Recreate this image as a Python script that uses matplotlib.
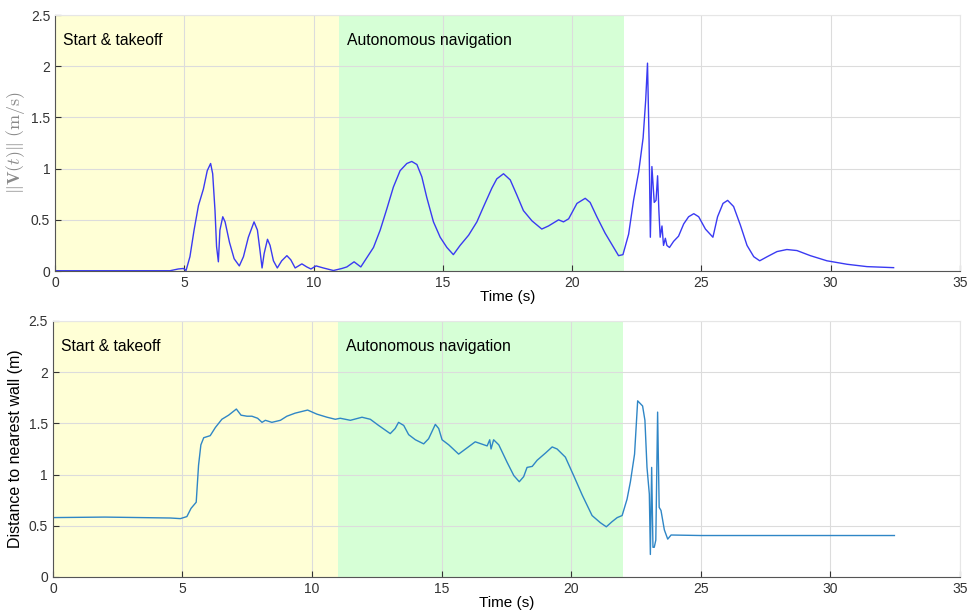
import matplotlib
matplotlib.use("Agg")
import matplotlib.pyplot as plt

plt.rcParams['font.family'] = ['Liberation Sans', 'DejaVu Sans']
plt.rcParams['mathtext.fontset'] = 'cm'

# velocity norm
t_vel = [0, 4.45, 4.77, 4.97, 5.07, 5.22, 5.38, 5.55, 5.74, 5.89,
         6.02, 6.10, 6.19, 6.25, 6.32, 6.38, 6.49, 6.58, 6.75, 6.93,
         7.13, 7.29, 7.48, 7.70, 7.83, 7.93, 8.01, 8.09, 8.22, 8.32,
         8.45, 8.60, 8.77, 8.97, 9.12, 9.29, 9.55, 9.74, 9.9, 10.1,
         10.38, 10.77, 11.1, 11.29, 11.57, 11.83, 12.06, 12.32, 12.58, 12.84,
         13.09, 13.35, 13.61, 13.80, 14.0, 14.19, 14.38, 14.64, 14.90, 15.16,
         15.41, 15.67, 16.0, 16.32, 16.58, 16.9, 17.09, 17.35, 17.61, 17.87,
         18.12, 18.45, 18.83, 19.09, 19.48, 19.67, 19.87, 20.19, 20.51, 20.7,
         20.96, 21.28, 21.61, 21.8, 21.97, 22.19, 22.38, 22.58, 22.75, 22.85,
         22.92, 22.98, 23.03, 23.09, 23.18, 23.25, 23.31, 23.36, 23.41, 23.48,
         23.54, 23.61, 23.67, 23.77, 23.93, 24.12, 24.32, 24.51, 24.71, 24.9,
         25.16, 25.45, 25.63, 25.84, 26.02, 26.25, 26.51, 26.77, 27.03, 27.26,
         27.55, 27.93, 28.31, 28.7, 29.22, 29.86, 30.64, 31.41, 32.44]
v_norm = [0.003, 0.003, 0.02, 0.025, 0.005, 0.14, 0.40, 0.64, 0.80, 0.98,
          1.05, 0.95, 0.59, 0.24, 0.09, 0.40, 0.53, 0.48, 0.28, 0.12,
          0.05, 0.14, 0.33, 0.48, 0.40, 0.20, 0.03, 0.17, 0.31, 0.25,
          0.10, 0.03, 0.10, 0.15, 0.11, 0.03, 0.07, 0.04, 0.02, 0.05,
          0.03, 0.005, 0.025, 0.04, 0.09, 0.04, 0.13, 0.23, 0.40, 0.61,
          0.82, 0.98, 1.05, 1.07, 1.04, 0.92, 0.72, 0.48, 0.33, 0.23,
          0.16, 0.25, 0.35, 0.48, 0.63, 0.81, 0.90, 0.95, 0.89, 0.74,
          0.59, 0.49, 0.41, 0.44, 0.50, 0.48, 0.51, 0.66, 0.71, 0.67,
          0.53, 0.37, 0.23, 0.15, 0.16, 0.36, 0.69, 0.97, 1.3, 1.67,
          2.03, 1.28, 0.33, 1.02, 0.67, 0.69, 0.93, 0.59, 0.33, 0.44,
          0.25, 0.32, 0.25, 0.23, 0.29, 0.34, 0.46, 0.53, 0.56, 0.53,
          0.41, 0.33, 0.53, 0.66, 0.69, 0.63, 0.45, 0.25, 0.14, 0.10,
          0.14, 0.19, 0.21, 0.20, 0.15, 0.10, 0.066, 0.043, 0.033]

# distance to nearest wall, lower panel
t_dist = [0, 2, 4.53, 4.92, 5.17, 5.33, 5.53, 5.62, 5.71, 5.82,
          6.07, 6.27, 6.52, 6.78, 7.08, 7.26, 7.49, 7.68, 7.9, 8.07,
          8.2, 8.45, 8.78, 9.03, 9.35, 9.83, 10.19, 10.58, 10.9, 11.09,
          11.48, 11.93, 12.25, 12.57, 13.02, 13.21, 13.34, 13.54, 13.73, 13.99,
          14.31, 14.5, 14.76, 14.89, 15.02, 15.28, 15.66, 15.98, 16.3, 16.76,
          16.86, 16.91, 17.01, 17.21, 17.53, 17.79, 18.0, 18.17, 18.3, 18.5,
          18.69, 19.01, 19.27, 19.46, 19.78, 20.1, 20.43, 20.81, 21.13, 21.36,
          21.58, 21.78, 21.97, 22.16, 22.29, 22.45, 22.57, 22.76, 22.85, 22.93,
          23.02, 23.06, 23.11, 23.16, 23.21, 23.27, 23.34, 23.4, 23.47, 23.6,
          23.73, 23.86, 25, 28, 32.48]
dist = [0.58, 0.585, 0.576, 0.57, 0.59, 0.67, 0.73, 1.09, 1.29, 1.36,
        1.38, 1.46, 1.54, 1.58, 1.64, 1.58, 1.57, 1.57, 1.55, 1.51,
        1.53, 1.51, 1.53, 1.57, 1.60, 1.63, 1.59, 1.56, 1.54, 1.55,
        1.53, 1.56, 1.54, 1.48, 1.40, 1.45, 1.51, 1.48, 1.39, 1.34,
        1.30, 1.35, 1.49, 1.45, 1.34, 1.29, 1.20, 1.26, 1.32, 1.28,
        1.34, 1.25, 1.34, 1.29, 1.12, 0.99, 0.93, 0.98, 1.07, 1.08,
        1.14, 1.21, 1.27, 1.25, 1.17, 0.99, 0.80, 0.60, 0.53, 0.49,
        0.54, 0.58, 0.60, 0.76, 0.93, 1.2, 1.72, 1.67, 1.53, 1.07,
        0.81, 0.22, 1.07, 0.29, 0.29, 0.36, 1.61, 0.68, 0.65, 0.46,
        0.37, 0.41, 0.405, 0.405, 0.405]

# flight phases (start, end, label, colour)
phases = [(0, 11, 'Start & takeoff', '#ffffd6'),
          (11, 22, 'Autonomous navigation', '#d6ffd6')]

x_ticks = [0, 5, 10, 15, 20, 25, 30, 35]
y_ticks = [0, 0.5, 1, 1.5, 2, 2.5]

fig = plt.figure(figsize=(9.75, 6.15), dpi=100)
ax_top = fig.add_axes([0.0564, 0.5593, 0.928, 0.4163])
ax_bot = fig.add_axes([0.0543, 0.0618, 0.930, 0.4163])


def style_axes(ax):
    for start, end, label, color in phases:
        ax.axvspan(start, end, color=color, lw=0, zorder=0.5)
        ax.text(start + 0.3, 2.25, label, fontsize=11.3, va='center', ha='left', zorder=3)
    ax.set_xlim(0, 35)
    ax.set_ylim(0, 2.5)
    ax.set_xticks(x_ticks)
    ax.set_yticks(y_ticks)
    ax.set_yticklabels(['0', '0.5', '1', '1.5', '2', '2.5'])
    ax.grid(True, color='#dcdcdc', lw=0.8)
    ax.set_axisbelow('line')
    ax.tick_params(direction='in', length=4, labelsize=10, colors='#333333',
                   top=False, right=False)
    for side in ['top', 'right']:
        ax.spines[side].set_color('#e6e6e6')
    for side in ['bottom', 'left']:
        ax.spines[side].set_color('#555555')
    ax.set_xlabel('Time (s)', fontsize=11, labelpad=0)


style_axes(ax_top)
ax_top.plot(t_vel, v_norm, color='#3a3af2', lw=1.0, zorder=2)
ax_top.set_ylabel(r'$\|\mathbf{V}(t)\|\ \mathrm{(m/s)}$', fontsize=13, color='#8a8a8a',
                  labelpad=3)

style_axes(ax_bot)
ax_bot.plot(t_dist, dist, color='#2f86c6', lw=1.0, zorder=2)
ax_bot.set_ylabel('Distance to nearest wall (m)', fontsize=11.5)

fig.savefig('out.png', dpi=100)
